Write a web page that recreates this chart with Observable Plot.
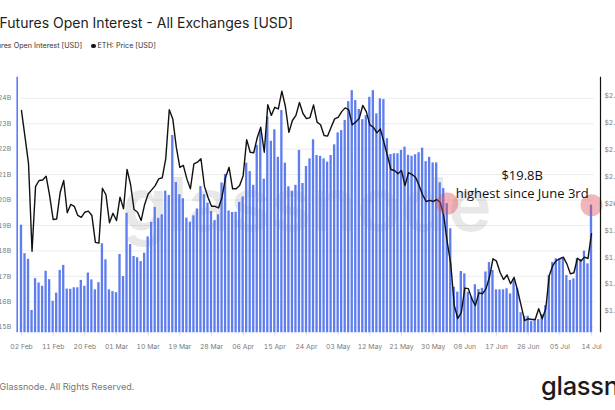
<!DOCTYPE html>
<html>
<head>
<meta charset="utf-8">
<script src="https://cdn.jsdelivr.net/npm/d3@7"></script>
<script src="https://cdn.jsdelivr.net/npm/@observablehq/plot@0.6"></script>
<style>
  html, body { margin: 0; padding: 0; background: #fff; }
  body { width: 615px; height: 410px; overflow: hidden; position: relative; font-family: Inter, Roboto, sans-serif; }
  .abs { position: absolute; white-space: nowrap; }
  #title { left: -0.5px; top: 16px; font-size: 14px; line-height: 14px; color: #222; }
  .leg { top: 42px; font-size: 7.2px; line-height: 8px; color: #333; }
  .dot { display: inline-block; width: 4.5px; height: 4.5px; border-radius: 50%; margin-right: 2px; vertical-align: 0px; }
  #chart { left: 0; top: 60px; }
  #foot { left: -0.5px; top: 382px; font-size: 9px; line-height: 10px; color: #777; }
  #logo { left: 0; top: 360px; }
</style>
</head>
<body>
<div id="title" class="abs">Futures Open Interest - All Exchanges [USD]</div>
<div class="abs leg" style="right: 533px;"><span class="dot" style="background:#5e7ef0"></span>Futures Open Interest [USD]</div>
<div class="abs leg" style="left: 91px;"><span class="dot" style="background:#111"></span>ETH: Price [USD]</div>
<div id="chart" class="abs"></div>
<div id="foot" class="abs">Glassnode. All Rights Reserved.</div>
<svg id="logo" class="abs" width="615" height="50"><text x="541" y="34.5" font-family="Inter, Roboto, sans-serif" font-size="25.5" font-weight="500" fill="#1b1b1b" letter-spacing="-0.3">glassnode</text></svg>
<script>
// ---- data ----
const startDate = "2023-02-02";
const endDate = "2023-07-14";

// Futures open interest, billions USD (one value per day)
const openInterest = [
19.01,17.89,17.67,15.66,16.91,16.74,16.61,17.20,16.87,16.02,
16.34,17.23,17.43,16.50,16.49,16.55,16.55,16.84,16.61,17.13,
16.86,16.47,16.75,18.28,17.65,16.47,16.40,16.36,17.86,16.99,
19.48,18.25,17.78,17.73,17.58,17.91,18.55,19.12,19.71,19.28,
19.42,20.35,20.18,22.54,20.69,20.21,20.05,19.29,19.13,19.38,
19.65,20.53,20.21,19.88,19.55,19.19,19.42,20.67,21.01,19.57,
19.51,19.52,19.91,20.12,21.45,21.12,20.58,22.15,22.68,20.82,
23.27,22.31,22.76,21.68,23.52,21.45,20.52,20.34,20.58,21.95,
20.65,21.32,21.62,22.37,21.75,21.72,21.62,21.49,21.75,22.17,
22.64,22.73,23.13,23.87,24.30,23.91,23.56,23.16,23.32,24.04,
24.30,23.39,23.98,23.95,22.41,21.79,21.82,21.82,21.95,22.08,
21.76,21.72,21.78,21.86,22.04,21.51,21.68,21.46,21.46,20.68,
20.45,19.86,18.87,16.57,16.38,17.19,17.10,16.38,16.18,16.67,
16.48,16.53,17.17,17.54,17.23,16.47,16.47,16.47,16.51,16.31,
16.87,16.51,15.57,15.43,15.43,15.22,15.30,15.30,15.49,15.85,
17.03,17.55,17.69,17.69,17.71,17.03,16.84,16.90,17.69,17.66,
17.99,17.49,19.80];

// ETH price, USD
const ethPrice = [
2346,2248,2149,1823,2064,2086,2088,2102,2030,1941,
1943,2042,2086,1966,1997,1990,1956,1949,1968,1972,
1956,1856,1853,2057,2033,1929,1964,1937,2024,1981,
2127,2071,1978,1968,1937,1997,2036,2051,2067,2092,
2096,2167,2349,2315,2210,2135,2142,2092,2055,2148,
2154,2167,2064,2024,1990,1990,1984,2024,2098,2135,
2055,2055,2067,2104,2238,2191,2189,2245,2284,2191,
2368,2328,2358,2352,2418,2361,2265,2309,2328,2376,
2335,2316,2320,2367,2303,2293,2253,2251,2284,2315,
2321,2342,2356,2349,2293,2303,2317,2365,2342,2293,
2284,2263,2278,2228,2179,2127,2123,2111,2123,2067,
2115,2108,2098,2067,2033,2008,2012,2008,2015,2005,
1956,1857,1776,1621,1573,1595,1686,1684,1646,1621,
1668,1665,1683,1726,1795,1786,1745,1718,1735,1702,
1726,1677,1621,1565,1572,1569,1569,1609,1572,1609,
1733,1770,1788,1795,1801,1776,1739,1743,1797,1787,
1801,1796,1888];

const xTickLabels = ["02 Feb","11 Feb","20 Feb","01 Mar","10 Mar","19 Mar","28 Mar","06 Apr","15 Apr","24 Apr","03 May","12 May","21 May","30 May","08 Jun","17 Jun","26 Jun","05 Jul","14 Jul"];
const oiTicks = [15,16,17,18,19,20,21,22,23,24];
const oiTickLabels = ["$15B","$16B","$17B","$18B","$19B","$20B","$21B","$22B","$23B","$24B"];
const priceTicks = [1600,1700,1800,1900,2000,2100,2200,2300,2400];
const priceTickLabels = ["$1.6k","$1.7k","$1.8k","$1.9k","$2k","$2.1k","$2.2k","$2.3k","$2.4k"];

const highlightDates = ["2023-06-03","2023-07-14"];
const annotations = [
  {date: "2023-06-24T07:00:00Z", value: 20.96, text: "$19.8B"},
  {date: "2023-06-24T07:00:00Z", value: 20.24, text: "highest since June 3rd"}
];

// ---- build ----
const DAY = 864e5;
const dates = d3.utcDay.range(new Date(startDate), d3.utcDay.offset(new Date(endDate), 1));
const data = dates.map((d, i) => ({date: d, oi: openInterest[i], price: ethPrice[i]}));
const parseTick = d3.utcParse("%d %b %Y");
const tickDates = xTickLabels.map(s => parseTick(s + " 2023"));
const tickLabelOf = new Map(tickDates.map((d, i) => [+d, xTickLabels[i]]));
const oiLabelOf = new Map(oiTicks.map((d, i) => [d, oiTickLabels[i]]));

const yDomain = [14.78, 24.83];
const priceDomain = [1519.7, 2470];
const priceToY = d3.scaleLinear().domain(priceDomain).range(yDomain);
const priceLabelOf = new Map(priceTicks.map((p, i) => [priceToY(p), priceTickLabels[i]]));

const x0 = new Date(+dates[0] - 1.22 * DAY);
const x1 = new Date(+dates[dates.length - 1] + 2.56 * DAY);

const blue = "#5e7ef0";
const highlights = data.filter(d => highlightDates.includes(d3.utcFormat("%Y-%m-%d")(d.date)));
const ann = annotations.map(a => ({...a, date: new Date(a.date)}));

const chart = Plot.plot({
  width: 615,
  height: 300,
  marginLeft: 16.7,
  marginRight: 15,
  marginTop: 16.7,
  marginBottom: 27.7,
  style: {fontFamily: "Inter, Roboto, sans-serif", fontSize: "6.8px", color: "#7a7a7a", background: "transparent"},
  x: {type: "utc", domain: [x0, x1]},
  y: {domain: yDomain},
  marks: [
    Plot.ruleY(oiTicks, {x1: dates[0], x2: new Date(+dates[dates.length - 1] + 0.8 * DAY), stroke: "#ededed", strokeWidth: 1}),
    Plot.text(["glassnode"], {frameAnchor: "middle", text: d => d, fontSize: 74, fontWeight: 600, fill: "#000", fillOpacity: 0.09, dy: 2, dx: -2}),
    Plot.rectY(data, {x1: d => new Date(+d.date - 0.33 * DAY), x2: d => new Date(+d.date + 0.33 * DAY), y1: yDomain[0], y2: "oi", fill: blue}),
    Plot.line(data, {x: "date", y: d => priceToY(d.price), stroke: "#111", strokeWidth: 1.4}),
    Plot.dot(highlights, {x: "date", y: "oi", r: 11, fill: "#e0505a", fillOpacity: 0.42, stroke: "none"}),
    Plot.text(ann, {x: "date", y: "value", text: "text", fontSize: 13, fill: "#111", fontFamily: "Open Sans", textAnchor: "middle", lineAnchor: "middle"}),
    Plot.ruleX([x0], {stroke: blue, strokeWidth: 1.6}),
    Plot.ruleX([x1], {stroke: "#111", strokeWidth: 1.2}),
    Plot.axisY(oiTicks, {anchor: "left", tickSize: 0, tickPadding: 6, tickFormat: d => oiLabelOf.get(d)}),
    Plot.axisY(priceTicks.map(priceToY), {anchor: "right", tickSize: 0, tickPadding: 4, tickFormat: d => priceLabelOf.get(d)}),
    Plot.axisX(tickDates, {anchor: "bottom", tickSize: 3, tickPadding: 8, stroke: "#d8d8d8", tickFormat: d => tickLabelOf.get(+d)})
  ]
});
document.getElementById("chart").appendChild(chart);
</script>
</body>
</html>
